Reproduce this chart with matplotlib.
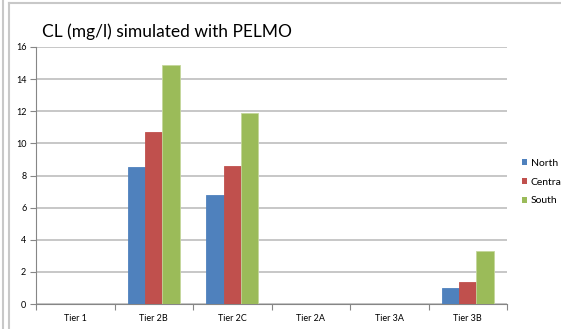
import matplotlib.pyplot as plt
import numpy as np
from matplotlib.lines import Line2D
from matplotlib.patches import Patch

plt.rcParams['font.family'] = ['Lato', 'DejaVu Sans']

# Concentrations (mg/l) per scenario tier and region
tiers = ["Tier 1", "Tier 2B", "Tier 2C", "Tier 2A", "Tier 3A", "Tier 3B"]
north = [0, 8.5, 6.8, 0, 0, 1.0]
central = [0, 10.7, 8.6, 0, 0, 1.4]
south = [0, 14.9, 11.9, 0, 0, 3.3]

regions = ["North", "Central", "South"]
colors = ["#4F81BD", "#C0504D", "#9BBB59"]
edges = ["#4F81BD", "#C0504D", "#C4D79B"]

fig = plt.figure(figsize=(5.61, 3.29), dpi=100)
ax = fig.add_axes([36 / 561, 1 - 304 / 329, 471 / 561, 257 / 329])

x = np.arange(len(tiers))
width = 1 / 4.5
for i, (vals, c, ec) in enumerate(zip([north, central, south], colors, edges)):
    ax.bar(x + (i - 1) * width, vals, width, color=c, edgecolor=ec,
           linewidth=0.6, zorder=3)

ax.set_xlim(-0.5, len(tiers) - 0.5)
ax.set_ylim(0, 16)
ax.set_yticks(np.arange(0, 17, 2))
ax.set_xticks(x)
ax.set_xticklabels(tiers)
ax.set_xticks(np.arange(-0.5, len(tiers), 1), minor=True)
ax.tick_params(axis='x', which='major', length=0, labelsize=6.5, pad=7,
               labelcolor="#000000")
ax.tick_params(axis='x', which='minor', length=4, color="#868686", width=0.8)
ax.tick_params(axis='y', length=4, color="#868686", width=0.8, labelsize=6.5,
               pad=3)

ax.grid(axis='y', color="#BEBEBE", linewidth=1.2, zorder=0)
for side in ["top", "right"]:
    ax.spines[side].set_visible(False)
for side in ["left", "bottom"]:
    ax.spines[side].set_color("#868686")
    ax.spines[side].set_linewidth(0.8)

fig.text(42 / 561, 1 - 32 / 329, "CL (mg/l) simulated with PELMO",
         fontsize=12.5, va='center', ha='left')

handles = [Patch(facecolor=c, edgecolor='none') for c in colors]
fig.legend(handles, regions, loc='center left',
           bbox_to_anchor=(517 / 561, 1 - 182 / 329), frameon=False,
           fontsize=7.5, handlelength=0.5, handleheight=0.5,
           handletextpad=0.3, labelspacing=0.95, borderpad=0)

# chart frame lines
frame = "#C8C8C8"
fig.add_artist(Line2D([3 / 561, 3 / 561], [0, 1], color=frame, lw=1.5))
fig.add_artist(Line2D([9 / 561, 9 / 561], [0, 1 - 3 / 329], color=frame, lw=1.5))
fig.add_artist(Line2D([9 / 561, 1], [1 - 3 / 329, 1 - 3 / 329], color=frame, lw=1.5))

fig.savefig("out.png", dpi=100)
